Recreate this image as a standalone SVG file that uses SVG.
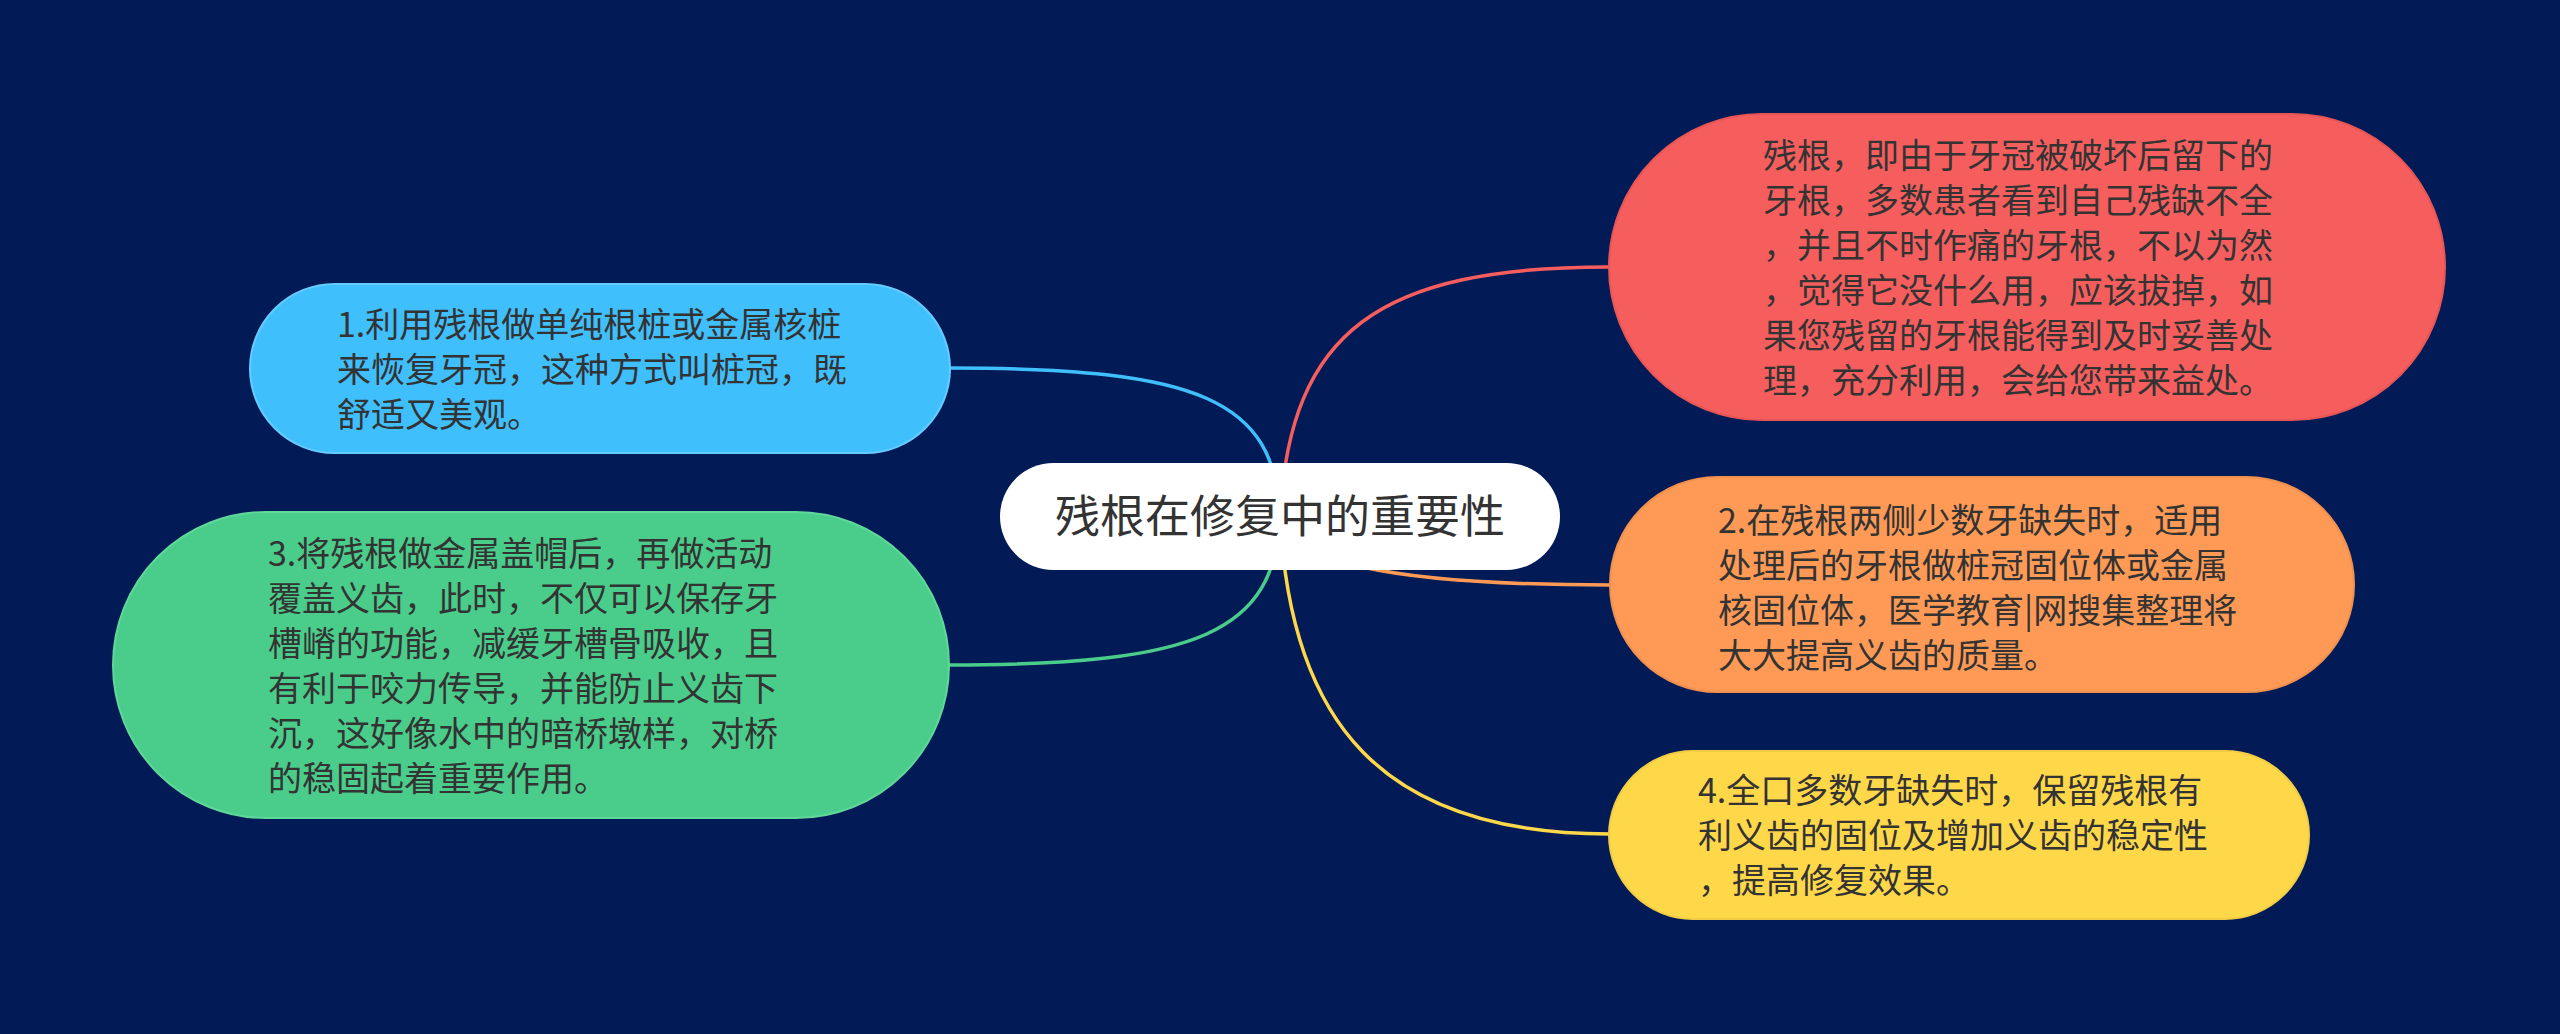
<svg xmlns="http://www.w3.org/2000/svg" width="2560" height="1034" viewBox="0 0 2560 1034">
<style>
.t{font-family:"Noto Sans CJK SC","Noto Sans",sans-serif;font-size:34px;fill:#333333}
.c{font-family:"Noto Sans CJK SC","Noto Sans",sans-serif;font-size:45px;fill:#333333;text-anchor:middle}
.l{fill:none;stroke-width:3.5;stroke-linecap:round}
</style>
<rect x="0" y="0" width="2560" height="1034" fill="#021b56"/>
<g id="connectors">
<path class="l" stroke="#40bffd" d="M1280 516 C1275 400 1200 368 950 368"/>
<path class="l" stroke="#4acd8b" d="M1280 516 C1275 632 1200 665 949 665"/>
<path class="l" stroke="#f65e5e" d="M1280 516 C1290 330 1380 267 1609 267"/>
<path class="l" stroke="#fe9a56" d="M1280 516 C1290 560 1380 585 1610 585"/>
<path class="l" stroke="#ffd84a" d="M1280 516 C1290 720 1380 834 1609 834"/>
</g>
<g id="center">
<rect x="1000" y="463" width="560" height="107" rx="53.5" fill="#ffffff"/>
<text class="c" x="1280" y="533">残根在修复中的重要性</text>
</g>
<g id="node1">
<rect x="250" y="284" width="700" height="169" rx="84.5" fill="#40bffd" stroke="#66ccff" stroke-width="2"/>
<text class="t" x="337" y="336.5">1.利用残根做单纯根桩或金属核桩</text>
<text class="t" x="337" y="381.5">来恢复牙冠，这种方式叫桩冠，既</text>
<text class="t" x="337" y="426.5">舒适又美观。</text>
</g>
<g id="node3">
<rect x="113" y="512" width="836" height="306" rx="153" fill="#4acd8b" stroke="#5fd89a" stroke-width="2"/>
<text class="t" x="268" y="565.5">3.将残根做金属盖帽后，再做活动</text>
<text class="t" x="268" y="610.5">覆盖义齿，此时，不仅可以保存牙</text>
<text class="t" x="268" y="655.5">槽嵴的功能，减缓牙槽骨吸收，且</text>
<text class="t" x="268" y="700.5">有利于咬力传导，并能防止义齿下</text>
<text class="t" x="268" y="745.5">沉，这好像水中的暗桥墩样，对桥</text>
<text class="t" x="268" y="790.5">的稳固起着重要作用。</text>
</g>
<g id="nodeR">
<rect x="1609" y="114" width="836" height="306" rx="153" fill="#f65e5e" stroke="#e85555" stroke-width="2"/>
<text class="t" x="1763" y="167.5">残根，即由于牙冠被破坏后留下的</text>
<text class="t" x="1763" y="212.5">牙根，多数患者看到自己残缺不全</text>
<text class="t" x="1763" y="257.5">，并且不时作痛的牙根，不以为然</text>
<text class="t" x="1763" y="302.5">，觉得它没什么用，应该拔掉，如</text>
<text class="t" x="1763" y="347.5">果您残留的牙根能得到及时妥善处</text>
<text class="t" x="1763" y="392.5">理，充分利用，会给您带来益处。</text>
</g>
<g id="node2">
<rect x="1610" y="477" width="744" height="215" rx="107.5" fill="#fe9a56" stroke="#f0904f" stroke-width="2"/>
<text class="t" x="1718" y="532.5">2.在残根两侧少数牙缺失时，适用</text>
<text class="t" x="1718" y="577.5">处理后的牙根做桩冠固位体或金属</text>
<text class="t" x="1718" y="622.5">核固位体，医学教育|网搜集整理将</text>
<text class="t" x="1718" y="667.5">大大提高义齿的质量。</text>
</g>
<g id="node4">
<rect x="1609" y="751" width="700" height="168" rx="84" fill="#ffd84a" stroke="#f2cc45" stroke-width="2"/>
<text class="t" x="1698" y="803">4.全口多数牙缺失时，保留残根有</text>
<text class="t" x="1698" y="848">利义齿的固位及增加义齿的稳定性</text>
<text class="t" x="1698" y="893">，提高修复效果。</text>
</g>
</svg>
